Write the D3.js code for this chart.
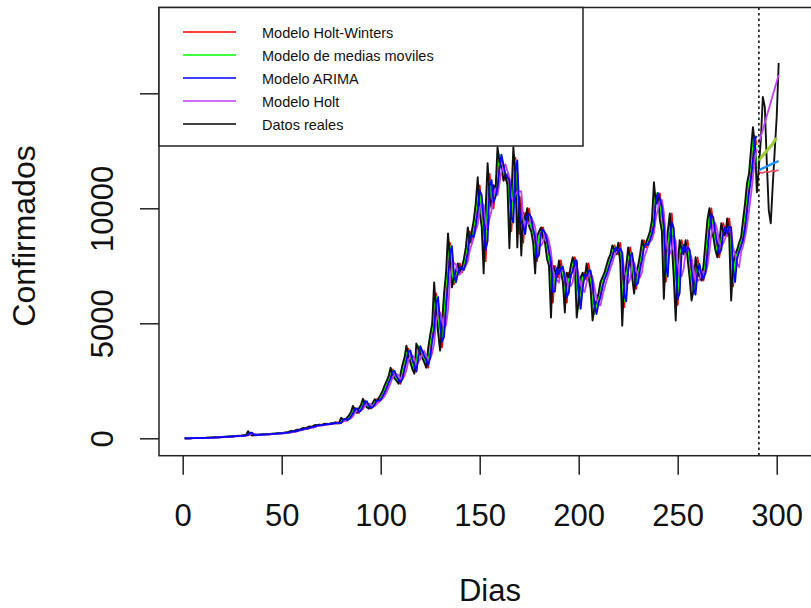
<!DOCTYPE html>
<html><head><meta charset="utf-8">
<script src="https://cdn.jsdelivr.net/npm/d3@7"></script>
<style>
body{margin:0;background:#fff}
svg{display:block}
text{font-family:"Liberation Sans",Arial,sans-serif;fill:#111}
</style></head>
<body><svg id="c" width="811" height="608"></svg>
<script>
// ---------- DATA ----------
const xTicks = [0, 50, 100, 150, 200, 250, 300];
const yTicks = [0, 5000, 10000, 15000];
const yTickLabels = ["0", "5000", "10000", ""];
const legendLabels = ["Modelo Holt-Winters", "Modelo de medias moviles", "Modelo ARIMA", "Modelo Holt", "Datos reales"];
const legendColors = ["#ff0000", "#00ff00", "#0000ff", "#bf3eff", "#000000"];
const forecastStart = 291;
const realStart = 1;
const fitStart = 1;

// Datos reales, day 1..301
const realData = [
0,2,3,5,6,8,10,12,15,18,
20,24,26,30,35,40,42,48,55,60,
65,70,80,75,90,95,100,110,105,120,
130,150,310,180,120,140,150,160,155,170,
175,180,170,190,200,195,210,220,215,230,
240,260,250,300,320,280,350,380,360,420,
450,400,480,520,470,540,580,550,600,560,
610,640,600,630,660,650,700,640,680,890,
820,760,900,1000,1150,1410,1200,1100,1300,1450,
1720,1500,1350,1290,1400,1550,1700,1600,1750,1900,
2070,2300,2500,2700,3070,2800,2600,2500,2370,2800,
3200,3500,4030,3600,3300,3000,2810,4120,3900,3700,
3500,3300,3070,3940,4500,5000,6780,5500,4600,3810,
5000,6300,7200,8910,7800,6560,7000,7300,7600,7200,
7430,7800,8300,9170,8500,9000,9500,10220,11350,9800,
9200,7170,10000,11960,10500,10000,11000,10800,12660,12000,
11790,11200,11500,11000,8260,10500,12660,11500,8300,10500,
7950,9800,9500,10000,9200,9000,8500,7170,8800,9000,
9170,8700,8500,7800,7500,5250,7500,7300,7000,7730,
7200,6800,5470,7200,7000,7500,7870,7600,5250,6000,
7000,7200,6900,7600,7000,6500,5120,5690,6000,6300,
6800,7000,7200,7500,7800,8000,8390,8200,8000,8500,
7600,4900,7000,7500,8300,7800,7000,6290,7200,7500,
8000,8610,8300,8500,8740,9000,9500,11130,10200,10650,
9500,9000,6070,8000,9000,9780,8500,7000,5120,7500,
8610,8200,8000,8610,7800,7000,5990,6500,7870,7300,
7000,6860,7500,8500,9500,10000,9200,8740,8200,7870,
8500,9350,9000,8800,9560,8800,5990,7600,8000,8200,
8500,8740,9500,10200,11090,11500,12530,13530,12750,10700,
11800,13000,14840,14400,12000,9910,9350,11000,12500,13970,16320
];

// Holt-Winters fitted, day 1..290
const fitHW = [
0,0,2,3,5,6,8,10,12,15,
18,20,24,26,30,35,40,42,48,55,
60,65,70,80,75,90,95,100,110,105,
120,130,150,250,200,130,140,150,160,155,
170,175,180,170,190,200,195,210,220,215,
230,240,260,250,300,320,280,350,380,360,
420,450,400,480,520,470,540,580,550,600,
560,610,640,600,630,660,650,700,640,680,
840,820,760,900,1000,1150,1330,1200,1100,1300,
1450,1650,1500,1350,1290,1400,1550,1700,1600,1750,
1900,2070,2300,2500,2700,3000,2800,2600,2500,2370,
2800,3200,3500,3900,3600,3300,3000,2900,4000,3900,
3700,3500,3300,3070,3940,4500,5000,6300,5500,4600,
3950,5000,6300,7200,8500,7800,6700,7000,7300,7600,
7200,7430,7800,8300,9000,8500,9000,9500,10220,11000,
9800,9200,7700,10000,11500,10500,10000,11000,10800,12200,
12000,11790,11200,11500,11000,9000,10500,12200,11500,8900,
10500,8500,9800,9500,10000,9200,9000,8500,7700,8800,
9000,9170,8700,8500,7800,7500,5900,7500,7300,7000,
7730,7200,6800,5900,7200,7000,7500,7870,7600,5800,
6000,7000,7200,6900,7600,7000,6500,5600,5690,6000,
6300,6800,7000,7200,7500,7800,8000,8390,8200,8000,
8500,7600,5700,7000,7500,8300,7800,7000,6500,7200,
7500,8000,8610,8300,8500,8740,9000,9500,10600,10200,
10650,9500,9000,6800,8000,9000,9780,8500,7000,5800,
7500,8610,8200,8000,8610,7800,7000,6400,6500,7870,
7300,7000,6860,7500,8500,9500,10000,9200,8740,8200,
7870,8500,9350,9000,8800,9560,8800,6600,7600,8000,
8200,8500,8740,9500,10200,11090,11500,12530,13100,12750
];

// Medias moviles fitted, day 1..290
const fitMA = [
0,1,3,4,6,7,9,11,14,17,
19,22,25,28,33,38,41,45,52,58,
63,68,75,78,83,93,98,105,108,113,
125,140,230,245,150,130,145,155,158,163,
172,178,175,180,195,198,203,215,218,223,
235,250,255,275,310,300,315,365,370,390,
435,425,440,500,495,505,560,565,575,580,
585,625,620,615,645,655,675,670,660,785,
855,790,830,950,1075,1280,1305,1150,1200,1375,
1585,1610,1425,1320,1345,1475,1625,1650,1675,1825,
1985,2185,2400,2600,2885,2935,2700,2550,2435,2585,
3000,3350,3765,3815,3450,3150,2905,3465,4010,3800,
3600,3400,3185,3505,4220,4750,5890,6140,5050,4205,
4405,5650,6750,8055,8355,7180,6780,7150,7450,7400,
7315,7615,8050,8735,8835,8750,9250,9860,10785,10575,
9500,8185,8585,10980,11230,10250,10500,10900,11730,12330,
11895,11495,11350,11250,9630,9380,11580,12080,9900,9400,
9225,8875,9650,9750,9600,9100,8750,7835,7985,8900,
9085,8935,8600,8150,7650,6375,6375,7400,7150,7365,
7465,7000,6135,6335,7100,7250,7685,7735,6425,5625,
6500,7100,7050,7250,7300,6750,5810,5405,5845,6150,
6550,6900,7100,7350,7650,7900,8195,8295,8100,8250,
8050,6250,5950,7250,7900,8050,7400,6645,6745,7350,
7750,8305,8455,8400,8620,8870,9250,10315,10665,10425,
10075,9250,7535,7035,8500,9390,9140,7750,6060,6310,
8055,8405,8100,8305,8205,7400,6495,6245,7185,7585,
7150,6930,7180,8000,9000,9750,9600,8970,8470,8035,
8185,8925,9175,8900,9180,9180,7395,6795,7800,8100,
8350,8620,9120,9850,10645,11295,12015,13030,13140,11725
];

// ARIMA fitted, day 1..290
const fitARIMA = [
0,0,1,3,4,6,7,9,11,14,
17,19,22,25,28,33,38,41,45,52,
58,63,68,75,78,83,93,98,105,108,
113,125,140,230,245,150,130,145,155,158,
163,172,178,175,180,195,198,203,215,218,
223,235,250,255,275,310,300,315,365,370,
390,435,425,440,500,495,505,560,565,575,
580,585,625,620,615,645,655,675,670,660,
785,855,790,830,950,1075,1280,1305,1150,1200,
1375,1585,1610,1425,1320,1345,1475,1625,1650,1675,
1825,1985,2185,2400,2600,2885,2935,2700,2550,2435,
2585,3000,3350,3765,3815,3450,3150,2905,3465,4010,
3800,3600,3400,3185,3505,4220,4750,5890,6140,5050,
4205,4405,5650,6750,8055,8355,7180,6780,7150,7450,
7400,7315,7615,8050,8735,8835,8750,9250,9860,10785,
10575,9500,8185,8585,10980,11230,10250,10500,10900,11730,
12330,11895,11495,11350,11250,9630,9380,11580,12080,9900,
9400,9225,8875,9650,9750,9600,9100,8750,7835,7985,
8900,9085,8935,8600,8150,7650,6375,6375,7400,7150,
7365,7465,7000,6135,6335,7100,7250,7685,7735,6425,
5625,6500,7100,7050,7250,7300,6750,5810,5405,5845,
6150,6550,6900,7100,7350,7650,7900,8195,8295,8100,
8250,8050,6250,5950,7250,7900,8050,7400,6645,6745,
7350,7750,8305,8455,8400,8620,8870,9250,10315,10665,
10425,10075,9250,7535,7035,8500,9390,9140,7750,6060,
6310,8055,8405,8100,8305,8205,7400,6495,6245,7185,
7585,7150,6930,7180,8000,9000,9750,9600,8970,8470,
8035,8185,8925,9175,8900,9180,9180,7395,6795,7800,
8100,8350,8620,9120,9850,10645,11295,12015,13030,13140
];

// Holt fitted, day 1..290
const fitHolt = [
0,0,0,1,2,4,5,7,9,11,
14,16,20,22,25,29,33,37,41,46,
51,57,63,69,73,79,85,90,99,103,
109,116,126,177,192,190,187,147,142,151,
159,165,170,173,179,185,189,199,206,210,
219,226,236,245,262,282,287,312,332,342,
377,402,407,437,462,467,502,527,535,567,
572,580,602,602,620,632,635,660,662,667,
727,757,787,842,870,952,1115,1190,1215,1252,
1262,1392,1492,1505,1465,1385,1397,1485,1562,1650,
1737,1830,2005,2192,2392,2642,2767,2792,2742,2567,
2567,2717,2967,3382,3582,3607,3482,3177,3307,3457,
3632,3805,3600,3392,3452,3702,4127,5055,5445,5470,
5172,4727,4927,5577,6852,7552,7617,7567,7165,7115,
7275,7382,7507,7682,8175,8442,8742,9042,9305,10017,
10217,10142,9380,9042,9582,9907,10615,10865,10575,11115,
11615,11812,11912,11622,11372,10490,10315,10605,10730,10740,
10740,9562,9137,9437,9312,9625,9425,9175,8467,8367,
8367,8535,8917,8842,8542,8125,7262,7012,6887,6762,
7382,7307,7182,6800,6667,6617,6792,7392,7492,7055,
6680,6462,6362,6775,7175,7175,7000,6555,6077,5827,
5777,6197,6525,6825,7125,7375,7625,7922,8097,8147,
8272,8075,7250,7000,6750,6925,7650,7650,7347,7072,
6997,7247,7827,8102,8352,8537,8635,8935,9592,9957,
10370,10370,9837,8805,8142,8017,8212,8820,8570,7600,
7030,7057,7357,8077,8355,8152,7852,7350,6822,6840,
6915,7167,7257,7165,7465,8090,8875,9300,9360,9035,
8502,8327,8480,8680,8912,9177,9040,8287,7987,7597,
7447,8075,8360,8735,9235,9882,10572,11330,12162,12577
];

// Forecasts from day 291
const fcHW    = [11520,11560,11540,11580,11600,11570,11610,11630,11600,11640,11650];
const fcMA    = [12100,12200,12300,12400,12500,12600,12700,12800,12950,13050];
const fcARIMA = [11650,11700,11740,11780,11820,11860,11900,11940,11980,12020,12050];
const fcHolt  = [12830,13130,13420,13720,14020,14310,14610,14910,15200,15500,15800];

// ---------- DRAW ----------
const svg = d3.select("#c");
const P = {left:159, top:7.5, right:823, bottom:455.7};
const x = d3.scaleLinear().domain([0,300]).range([182.7,776.7]);
const y = d3.scaleLinear().domain([0,15000]).range([438.3,93.3]);

svg.append("defs").append("clipPath").attr("id","clip")
  .append("rect").attr("x",P.left).attr("y",P.top)
  .attr("width",P.right-P.left).attr("height",P.bottom-P.top);

const line = d3.line().x(d=>x(d[0])).y(d=>y(d[1]));
const toPts = (start, vals) => vals.map((v,i)=>[start+i, v]);

const g = svg.append("g").attr("clip-path","url(#clip)");
const draw = (pts, color, w) => g.append("path").datum(pts)
  .attr("d", line).attr("fill","none").attr("stroke",color)
  .attr("stroke-width",w).attr("stroke-linejoin","round");

draw(toPts(fitStart, fitHW), "#ff0000", 1.8);
draw(toPts(fitStart, fitMA), "#00ff00", 1.8);
draw(toPts(realStart, realData), "#111111", 1.9);
draw(toPts(fitStart, fitHolt), "#bf3eff", 1.8);
draw(toPts(fitStart, fitARIMA), "#0000ff", 1.8);

draw(toPts(forecastStart, fcHW), "#ee4a5c", 1.6);
draw(toPts(forecastStart, fcARIMA), "#1e90ff", 2.4);
draw(toPts(forecastStart, fcMA), "#9acd32", 3);
draw(toPts(forecastStart, fcHolt), "#bf3eff", 1.8);

// vertical dotted line at forecast start
g.append("line").attr("x1",x(forecastStart)).attr("x2",x(forecastStart))
  .attr("y1",P.top).attr("y2",P.bottom)
  .attr("stroke","#111").attr("stroke-width",1.6).attr("stroke-dasharray","2.5,3");

// frame
svg.append("rect").attr("x",P.left).attr("y",P.top)
  .attr("width",P.right-P.left).attr("height",P.bottom-P.top)
  .attr("fill","none").attr("stroke","#222").attr("stroke-width",1.5);

// x axis
const gx = svg.append("g").attr("transform",`translate(0,${P.bottom})`)
  .call(d3.axisBottom(x).tickValues(xTicks).tickSize(19).tickFormat(d=>String(d)));
gx.select(".domain").remove();
gx.selectAll(".tick line").attr("stroke","#222").attr("stroke-width",1.5);
gx.selectAll(".tick text").attr("y",70.3).attr("dy",null)
  .attr("font-size",31).attr("fill","#111").style("font-family",'"Liberation Sans",Arial,sans-serif');

// y axis
const gy = svg.append("g").attr("transform",`translate(${P.left},0)`)
  .call(d3.axisLeft(y).tickValues(yTicks).tickSize(19).tickFormat((d,i)=>yTickLabels[i]));
gy.select(".domain").remove();
gy.selectAll(".tick line").attr("stroke","#222").attr("stroke-width",1.5);
gy.selectAll(".tick text").attr("x",null).attr("dy",null)
  .attr("text-anchor","middle").attr("transform","translate(-46,0) rotate(-90)")
  .attr("font-size",31).attr("fill","#111").style("font-family",'"Liberation Sans",Arial,sans-serif');

// axis titles
svg.append("text").attr("x",490).attr("y",601).attr("text-anchor","middle")
  .attr("font-size",31).text("Dias");
svg.append("text").attr("transform","translate(35,236) rotate(-90)")
  .attr("text-anchor","middle").attr("font-size",32).text("Confirmados");

// legend
const L = svg.append("g");
L.append("rect").attr("x",P.left).attr("y",P.top).attr("width",424).attr("height",138.5)
  .attr("fill","#fff").attr("stroke","#222").attr("stroke-width",1.5);
const rowY = [32, 55, 78, 101, 124];
legendLabels.forEach((lab,i)=>{
  L.append("line").attr("x1",183).attr("x2",236).attr("y1",rowY[i]).attr("y2",rowY[i])
    .attr("stroke",legendColors[i]).attr("stroke-width",1.6);
  L.append("text").attr("x",262).attr("y",rowY[i]+5.5).attr("font-size",14.5)
    .attr("fill","#222").text(lab);
});
</script></body></html>
